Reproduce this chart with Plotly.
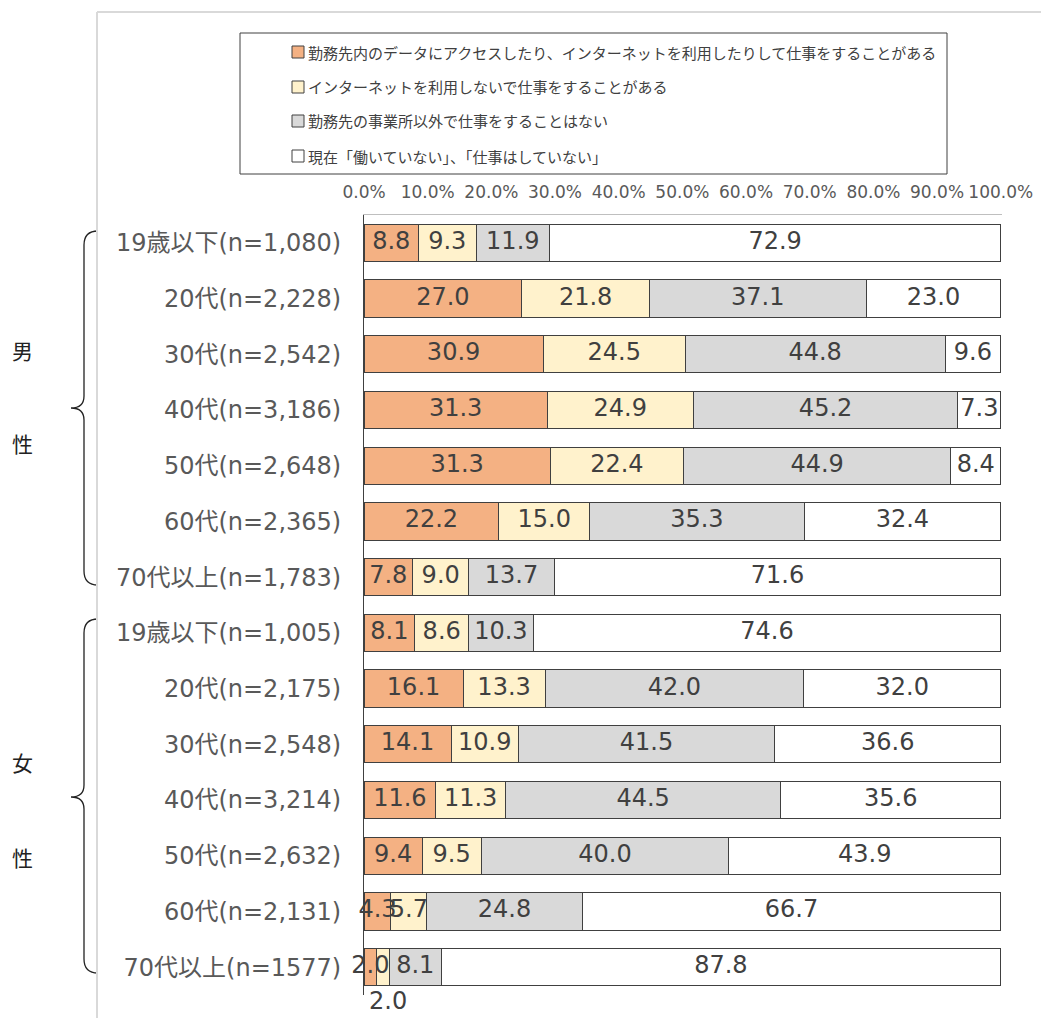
import plotly.graph_objects as go

# カテゴリ
categories = [
    "19歳以下(n=1,080)", "20代(n=2,228)", "30代(n=2,542)", "40代(n=3,186)",
    "50代(n=2,648)", "60代(n=2,365)", "70代以上(n=1,783)",
    "19歳以下(n=1,005)", "20代(n=2,175)", "30代(n=2,548)", "40代(n=3,214)",
    "50代(n=2,632)", "60代(n=2,131)", "70代以上(n=1577)",
]

series_names = [
    "勤務先内のデータにアクセスしたり、インターネットを利用したりして仕事をすることがある",
    "インターネットを利用しないで仕事をすることがある",
    "勤務先の事業所以外で仕事をすることはない",
    "現在「働いていない」、「仕事はしていない」",
]

access = [8.8, 27.0, 30.9, 31.3, 31.3, 22.2, 7.8, 8.1, 16.1, 14.1, 11.6, 9.4, 4.3, 2.0]
no_net = [9.3, 21.8, 24.5, 24.9, 22.4, 15.0, 9.0, 8.6, 13.3, 10.9, 11.3, 9.5, 5.7, 2.0]
no_remote = [11.9, 37.1, 44.8, 45.2, 44.9, 35.3, 13.7, 10.3, 42.0, 41.5, 44.5, 40.0, 24.8, 8.1]
not_working = [72.9, 23.0, 9.6, 7.3, 8.4, 32.4, 71.6, 74.6, 32.0, 36.6, 35.6, 43.9, 66.7, 87.8]

tick_vals = [0, 10, 20, 30, 40, 50, 60, 70, 80, 90, 100]
tick_text = ["0.0%", "10.0%", "20.0%", "30.0%", "40.0%", "50.0%", "60.0%",
             "70.0%", "80.0%", "90.0%", "100.0%"]

colors = ["#F4B183", "#FFF2CC", "#D9D9D9", "#FFFFFF"]
series = [access, no_net, no_remote, not_working]

# ページの余白(8px)を差し引いたサイズ
OFF = 8
W, H = 1049 - OFF, 1018 - OFF
L, T = 364 - OFF, 215 - OFF
R = W - (1002 - OFF)
B = H - (995 - OFF)
PW, PH = W - L - R, H - T - B


def px(x):
    return (x - OFF - L) / PW


def py(y):
    return (H - B - (y - OFF)) / PH


num_font = "DejaVu Sans, Noto Sans CJK JP"
txt_color = "#404040"
outline = "#404040"

fig = go.Figure()
for name, vals, col in zip(series_names, series, colors):
    fig.add_trace(go.Bar(
        y=categories, x=vals, name=name, orientation="h",
        marker=dict(color=col, line=dict(color=outline, width=1)),
        cliponaxis=False, showlegend=False, hoverinfo="x+y+name",
    ))

# ラベル（100%換算の中央位置）はすべての棒の上に描く
totals = [sum(v) for v in zip(*series)]
cum = [0.0] * len(categories)
last = len(categories) - 1
for i, vals in enumerate(series):
    mids = [(c + v / 2) / t * 100 for c, v, t in zip(cum, vals, totals)]
    labels = ["%.1f" % v for v in vals]
    if i == 1:
        labels[last] = ""  # 女性70代以上は棒の下に表示
    fig.add_trace(go.Scatter(
        x=mids, y=categories, mode="text", text=labels, textposition="middle center",
        textfont=dict(family=num_font, size=24, color=txt_color),
        cliponaxis=False, showlegend=False, hoverinfo="skip",
    ))
    cum = [c + v for c, v in zip(cum, vals)]

# 女性70代以上の2番目の値（棒の下に表示）
fig.add_annotation(
    x=(access[last] + no_net[last] / 2) / totals[last] * 100, y=categories[last],
    xref="x", yref="y", text="%.1f" % no_net[last], showarrow=False,
    yshift=-34, xshift=5, xanchor="center", yanchor="middle",
    font=dict(family=num_font, size=24, color=txt_color),
)

# 男性・女性の見出し
for t, yy in [("男", 350), ("性", 443), ("女", 762), ("性", 857)]:
    fig.add_annotation(x=px(22), y=py(yy), xref="paper", yref="paper", text=t,
                       xanchor="center", yanchor="middle", showarrow=False,
                       font=dict(family="Noto Sans CJK JP", size=21, color="#222222"))

# 中括弧


def brace(top, mid, bottom):
    pts = [
        "M", px(98), py(top), "Q", px(84), py(top), px(84), py(top + 14),
        "L", px(84), py(mid - 12), "Q", px(84), py(mid), px(71), py(mid),
        "Q", px(84), py(mid), px(84), py(mid + 12),
        "L", px(84), py(bottom - 14), "Q", px(84), py(bottom), px(98), py(bottom),
    ]
    return " ".join(p if isinstance(p, str) else "%.5f" % p for p in pts)


shapes = []
for top, mid, bottom in [(231, 408, 585), (619, 797, 973)]:
    shapes.append(dict(type="path", path=brace(top, mid, bottom), xref="paper", yref="paper",
                       line=dict(color="#222222", width=1.3)))

# 外枠
shapes.append(dict(type="line", xref="paper", yref="paper", x0=px(97), x1=px(1049), y0=py(12), y1=py(12),
                   line=dict(color="#D9D9D9", width=2)))
shapes.append(dict(type="line", xref="paper", yref="paper", x0=px(97), x1=px(97), y0=py(12), y1=py(1018),
                   line=dict(color="#D9D9D9", width=2)))

# 凡例（枠・色見本・文字）
shapes.append(dict(type="rect", xref="paper", yref="paper", x0=px(240), x1=px(947), y0=py(33), y1=py(174),
                   line=dict(color="#404040", width=1), fillcolor="rgba(0,0,0,0)"))
for name, col, yy in zip(series_names, colors, [52, 87, 121, 156]):
    shapes.append(dict(type="rect", xref="paper", yref="paper",
                       x0=px(292), x1=px(304), y0=py(yy - 6), y1=py(yy + 6),
                       line=dict(color=outline, width=1), fillcolor=col))
    fig.add_annotation(x=px(306), y=py(yy), xref="paper", yref="paper", text=name,
                       xanchor="left", yanchor="middle", showarrow=False,
                       font=dict(family="Noto Sans CJK JP", size=15, color=txt_color))

fig.update_layout(
    width=W, height=H,
    margin=dict(l=L, r=R, t=T, b=B),
    barmode="stack", barnorm="percent", bargap=0.33,
    plot_bgcolor="white", paper_bgcolor="white",
    shapes=shapes,
    showlegend=False,
)

fig.update_xaxes(
    side="top", range=[0, 100.2], tickvals=tick_vals, ticktext=tick_text,
    showgrid=False, zeroline=False, showline=True, linecolor="#BFBFBF", linewidth=1,
    ticks="", ticklabelstandoff=9,
    tickfont=dict(family=num_font, size=17, color="#595959"),
)
fig.update_yaxes(
    type="category", categoryorder="array", categoryarray=categories,
    range=[len(categories) - 0.5, -0.5], showgrid=False, zeroline=False,
    showline=True, linecolor="#404040", linewidth=1, ticks="", ticklabelstandoff=17,
    tickfont=dict(family=num_font, size=24, color="#595959"),
)

fig.write_html("out.html")
